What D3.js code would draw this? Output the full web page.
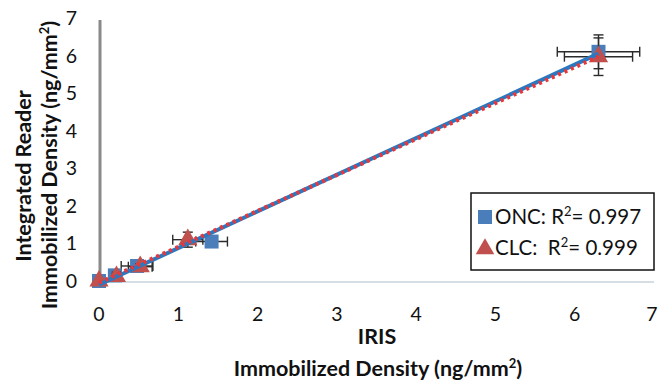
<!DOCTYPE html>
<html>
<head>
<meta charset="utf-8">
<script src="https://cdn.jsdelivr.net/npm/d3@7"></script>
<style>
  body { margin: 0; background: #fff; }
  text { font-family: Lato, "Open Sans", sans-serif; fill: #111; }
</style>
</head>
<body>
<svg id="chart" width="660" height="387"></svg>
<script>
// ONC series (blue squares)
const oncX = [0, 0.2, 0.48, 1.42, 6.3];
const oncY = [0, 0.15, 0.4, 1.05, 6.1];
const oncXErr = [0.02, 0.05, 0.2, 0.2, 0.52];
const oncYErr = [0.02, 0.05, 0.08, 0.1, 0.45];
// CLC series (red triangles)
const clcX = [0, 0.22, 0.52, 1.12, 6.3];
const clcY = [0, 0.12, 0.38, 1.1, 5.97];
const clcXErr = [0.02, 0.05, 0.15, 0.19, 0.43];
const clcYErr = [0.02, 0.05, 0.08, 0.2, 0.5];

const ticks = [0, 1, 2, 3, 4, 5, 6, 7];
const legendNames = ["ONC:", "CLC: "];
const legendR2 = ["0.997", "0.999"];

const svg = d3.select("#chart");

const x = d3.scaleLinear().domain([0, 7]).range([99, 654]);
const y = d3.scaleLinear().domain([0, 7]).range([281, 18]);

// horizontal axis line (light)
svg.append("line")
    .attr("x1", x(0)).attr("x2", x(7))
    .attr("y1", y(0) + 1).attr("y2", y(0) + 1)
    .style("stroke", "#c9d3dc").style("stroke-width", 1.5);

// vertical axis line (gray, thick)
svg.append("line")
    .attr("x1", x(0) + 1).attr("x2", x(0) + 1)
    .attr("y1", y(7) + 2).attr("y2", y(0) + 1)
    .style("stroke", "#8a8a8a").style("stroke-width", 3);

// tick labels
svg.selectAll(".xtick")
    .data(ticks).enter()
    .append("text")
    .attr("x", d => d === 7 ? x(d) - 2 : x(d))
    .attr("y", 321)
    .style("text-anchor", "middle")
    .style("font-size", "19.5px")
    .text(d => d);

svg.selectAll(".ytick")
    .data(ticks).enter()
    .append("text")
    .attr("x", 77)
    .attr("y", d => y(d) + 7)
    .style("text-anchor", "end")
    .style("font-size", "19.5px")
    .text(d => d);

// axis titles
const titleSize = "21.5px";
const xt = svg.append("text")
    .attr("x", 377)
    .attr("y", 344)
    .style("text-anchor", "middle")
    .style("font-size", titleSize)
    .style("font-weight", "bold");
xt.append("tspan").text("IRIS");
const xt2 = svg.append("text")
    .attr("x", 378)
    .attr("y", 376)
    .style("text-anchor", "middle")
    .style("font-size", titleSize)
    .style("font-weight", "bold");
xt2.append("tspan").text("Immobilized Density (ng/mm");
xt2.append("tspan").attr("dy", -8).style("font-size", "13px").text("2");
xt2.append("tspan").attr("dy", 8).text(")");

svg.append("text")
    .attr("transform", "translate(31,176) rotate(-90)")
    .style("text-anchor", "middle")
    .style("font-size", titleSize)
    .style("font-weight", "bold")
    .text("Integrated Reader");
const yt2 = svg.append("text")
    .attr("transform", "translate(57,165) rotate(-90)")
    .style("text-anchor", "middle")
    .style("font-size", titleSize)
    .style("font-weight", "bold");
yt2.append("tspan").text("Immobilized Density (ng/mm");
yt2.append("tspan").attr("dy", -8).style("font-size", "13px").text("2");
yt2.append("tspan").attr("dy", 8).text(")");

const blue = "#4a7ebb";
const red = "#c0504d";
const cap = 5;

function drawSeries(xs, ys, xe, ye, symbolType, size, color) {
    const pts = xs.map((d, i) => ({x: d, y: ys[i], xe: xe[i], ye: ye[i]}));
    const g = svg.append("g");
    const eb = g.selectAll("g.eb").data(pts).enter().append("g")
        .style("stroke", "#2b2b2b").style("stroke-width", 1.4).style("fill", "none");
    eb.append("line")
        .attr("x1", d => x(d.x - d.xe)).attr("x2", d => x(d.x + d.xe))
        .attr("y1", d => y(d.y)).attr("y2", d => y(d.y));
    eb.append("line")
        .attr("x1", d => x(d.x - d.xe)).attr("x2", d => x(d.x - d.xe))
        .attr("y1", d => y(d.y) - cap).attr("y2", d => y(d.y) + cap);
    eb.append("line")
        .attr("x1", d => x(d.x + d.xe)).attr("x2", d => x(d.x + d.xe))
        .attr("y1", d => y(d.y) - cap).attr("y2", d => y(d.y) + cap);
    eb.append("line")
        .attr("x1", d => x(d.x)).attr("x2", d => x(d.x))
        .attr("y1", d => y(d.y - d.ye)).attr("y2", d => y(d.y + d.ye));
    eb.append("line")
        .attr("x1", d => x(d.x) - cap).attr("x2", d => x(d.x) + cap)
        .attr("y1", d => y(d.y - d.ye)).attr("y2", d => y(d.y - d.ye));
    eb.append("line")
        .attr("x1", d => x(d.x) - cap).attr("x2", d => x(d.x) + cap)
        .attr("y1", d => y(d.y + d.ye)).attr("y2", d => y(d.y + d.ye));
    g.selectAll("path.mk").data(pts).enter().append("path")
        .attr("d", d3.symbol().type(symbolType).size(size))
        .attr("transform", d => "translate(" + x(d.x) + "," + y(d.y) + ")")
        .style("fill", color);
    return pts;
}

const oncPts = drawSeries(oncX, oncY, oncXErr, oncYErr, d3.symbolSquare, 196, blue);
const clcPts = drawSeries(clcX, clcY, clcXErr, clcYErr, d3.symbolTriangle, 160, red);

// linear trendlines (least squares fit)
function fit(pts) {
    const mx = d3.mean(pts, d => d.x), my = d3.mean(pts, d => d.y);
    const b = d3.sum(pts, d => (d.x - mx) * (d.y - my)) / d3.sum(pts, d => (d.x - mx) ** 2);
    const a = my - b * mx;
    const ext = d3.extent(pts, d => d.x);
    return ext.map(v => [x(v), y(a + b * v)]);
}
svg.append("path")
    .attr("d", d3.line()(fit(oncPts)))
    .style("stroke", "#2a78c0").style("stroke-width", 4).style("fill", "none");
svg.append("path")
    .attr("d", d3.line()(fit(clcPts)))
    .style("stroke", "#e8363a").style("stroke-width", 4)
    .style("stroke-dasharray", "3,4").style("fill", "none");

// legend
const lg = svg.append("g");
lg.append("rect")
    .attr("x", 471).attr("y", 193).attr("width", 183).attr("height", 77)
    .style("fill", "#fff").style("stroke", "#111").style("stroke-width", 1.5);
const rows = lg.selectAll("g.row").data(legendNames).enter().append("g")
    .attr("transform", (d, i) => "translate(0," + (217 + i * 31) + ")");
rows.append("path")
    .attr("d", (d, i) => d3.symbol().type(i === 0 ? d3.symbolSquare : d3.symbolTriangle).size(i === 0 ? 196 : 150)())
    .attr("transform", (d, i) => "translate(485," + (i === 0 ? 0 : 1) + ")")
    .style("fill", (d, i) => i === 0 ? blue : red);
const lt = rows.append("text")
    .attr("x", 495).attr("y", 7)
    .style("font-size", "20.5px")
    .style("white-space", "pre");
lt.append("tspan").text(d => d + " R");
lt.append("tspan").attr("dy", -8).style("font-size", "13px").text("2");
lt.append("tspan").attr("dy", 8).text((d, i) => "= " + legendR2[i]);
</script>
</body>
</html>
